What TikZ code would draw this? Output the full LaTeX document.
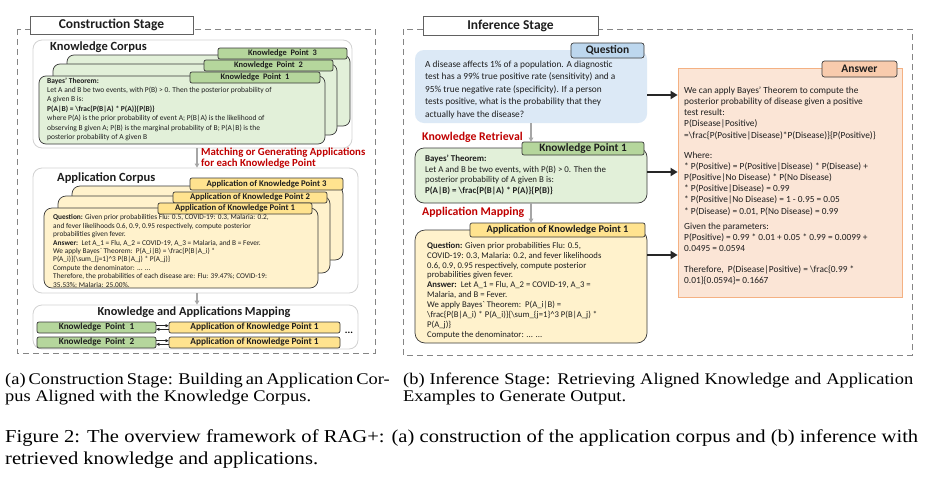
\documentclass[tikz,border=0pt]{standalone}
\usepackage{fontspec}
\setmainfont{Carlito}
\newfontfamily\capfont[FakeStretch=1.13]{Liberation Serif}
\usetikzlibrary{fit,arrows.meta}
\definecolor{gfill}{HTML}{E2F0D9}
\definecolor{glab}{HTML}{B5D69C}
\definecolor{yfill}{HTML}{FFF2CC}
\definecolor{ylab}{HTML}{FFE38F}
\definecolor{qfill}{HTML}{DCE9F6}
\definecolor{qlab}{HTML}{BDD7EE}
\definecolor{afill}{HTML}{FBE5D6}
\definecolor{aline}{HTML}{F4B183}
\definecolor{alab}{HTML}{F8CBAD}
\definecolor{bord}{HTML}{3A3A3A}
\definecolor{framec}{HTML}{858585}
\definecolor{contc}{HTML}{D2D2D2}
\definecolor{arrg}{HTML}{A6A6A6}
\definecolor{redt}{HTML}{C00000}
\definecolor{titc}{HTML}{1E1E1E}
\begin{document}
\begin{tikzpicture}[x=1pt,y=-1pt,
  stageframe/.style={draw=framec,line width=1pt,dash pattern=on 6pt off 4pt},
  stagetitle/.style={draw=bord!80,fill=white,line width=0.8pt,inner sep=0pt,text=titc,font=\fontsize{13.5}{15}\selectfont\bfseries},
  container/.style={draw=contc,fill=white,rounded corners=9pt,line width=0.8pt,inner sep=0pt},
  conttitle/.style={anchor=west,inner sep=0pt,text=titc,font=\fontsize{12.5}{14}\selectfont\bfseries},
  gcard/.style={draw=bord,fill=gfill,rounded corners=7pt,line width=0.7pt,inner sep=0pt},
  ycard/.style={draw=bord,fill=yfill,rounded corners=8pt,line width=0.7pt,inner sep=0pt},
  lab/.style={draw=bord,rounded corners=2pt,line width=0.7pt,inner sep=0pt,text=titc},
  glabel/.style={lab,fill=glab,font=\fontsize{8.4}{9}\selectfont\bfseries},
  ylabel/.style={lab,fill=ylab,font=\fontsize{8.7}{9}\selectfont\bfseries},
  txt/.style={anchor=north west,inner sep=0pt,align=left,text=titc},
  redlab/.style={anchor=west,inner sep=0pt,align=left,text=redt,font=\fontsize{10.8}{10.5}\selectfont\bfseries},
  grayarrow/.style={draw=arrg,line width=1.3pt,-{Triangle[length=4pt,width=4.5pt]}},
  blackarrow/.style={draw=black!85,line width=1.8pt,-{Triangle[length=7pt,width=8pt]}},
  maparrow/.style={draw=black!85,line width=0.6pt,-{Triangle[length=3pt,width=3pt]}},
  captxt/.style={anchor=base west,inner sep=0pt,text=black,font=\capfont\fontsize{16.3}{17}\selectfont},
  figtxt/.style={anchor=base west,inner sep=0pt,text=black,font=\capfont\fontsize{18.2}{22}\selectfont}
]
\useasboundingbox[fill=white] (0,0) rectangle (934,477);

% ================= Construction stage =================
\draw[stageframe] (17,29) rectangle (375,353);
\node[stagetitle,minimum width=163pt,minimum height=18pt] (ctitle) at (111.5,25) {Construction Stage};

% Knowledge corpus
\node[container,fit={(33,40) (352,148)}] (kcont) {};
\node[conttitle] (kctitle) at (50,47.5) {Knowledge Corpus};
\node[gcard,fit={(67,55) (350,126)}] (kcard3) {};
\node[glabel,minimum width=129pt,minimum height=11pt] (kl3) at (282.5,53.5) {Knowledge\ \ Point\ \ 3};
\node[gcard,fit={(53,64) (337,135)}] (kcard2) {};
\node[glabel,minimum width=129pt,minimum height=11pt] (kl2) at (268.5,65.5) {Knowledge\ \ Point\ \ 2};
\node[gcard,fit={(39,76) (325,144)}] (kcard1) {};
\node[glabel,minimum width=130pt,minimum height=11pt] (kl1) at (255,77.5) {Knowledge\ \ Point\ \ 1};
\node[txt,font=\fontsize{7.5}{9.4}\selectfont] (ktext) at (47,77.4) {%
\textbf{Bayes' Theorem:}\\
Let A and B be two events, with P(B) > 0. Then the posterior probability of\\
A given B is:\\
\textbf{P(A|B) = \textbackslash frac\{P(B|A) * P(A)\}\{P(B)\}}\\
where P(A) is the prior probability of event A; P(B|A) is the likelihood of\\
observing B given A; P(B) is the marginal probability of B; P(A|B) is the\\
posterior probability of A given B};

% arrow 1
\coordinate (ax1) at (197,0);
\node[container,fit={(33,168) (358,293)}] (acont) {};
\draw[grayarrow] (kcont.south -| ax1) -- (acont.north -| ax1);
\node[redlab] (match) at (201,158) {Matching or Generating Applications\\for each Knowledge Point};

% Application corpus
\node[conttitle] (actitle) at (57,178) {Application Corpus};
\node[ycard,fit={(72,186) (343,260)}] (acard3) {};
\node[ylabel,minimum width=153pt,minimum height=12pt] (al3) at (266.5,184) {Application of Knowledge Point 3};
\node[ycard,fit={(58,196) (330,273)}] (acard2) {};
\node[ylabel,minimum width=154pt,minimum height=11pt] (al2) at (250,197.5) {Application of Knowledge Point 2};
\node[ycard,fit={(44,208) (318,288)}] (acard1) {};
\node[ylabel,minimum width=154pt,minimum height=11pt] (al1) at (235,208.5) {Application of Knowledge Point 1};
\node[txt,font=\fontsize{7.35}{8.4}\selectfont] (atext) at (53,214.6) {%
\textbf{Question:} Given prior probabilities Flu: 0.5, COVID-19: 0.3, Malaria: 0.2,\\
and fever likelihoods 0.6, 0.9, 0.95 respectively, compute posterior\\
probabilities given fever.\\
\textbf{Answer:}\ \ Let A\_1 = Flu, A\_2 = COVID-19, A\_3 = Malaria, and B = Fever.\\
We apply Bayes\textasciigrave\ Theorem:\ \ P(A\_i|B) = \textbackslash frac\{P(B|A\_i) *\\
P(A\_i)\}\{\textbackslash sum\_\{j=1\}\textasciicircum 3 P(B|A\_j) * P(A\_j)\}\\
Compute the denominator: ... ...\\
Therefore, the probabilities of each disease are: Flu: 39.47\%; COVID-19:\\
35.53\%; Malaria: 25.00\%.};

% Mapping
\node[container,fit={(33,305) (358,349)}] (mcont) {};
\draw[grayarrow] (acont.south -| ax1) -- (mcont.north -| ax1);
\node[inner sep=0pt,text=titc,font=\fontsize{12.3}{13}\selectfont\bfseries] (mtitle) at (194,312.5) {Knowledge and Applications Mapping};
\node[glabel,font=\fontsize{9.2}{10}\selectfont\bfseries,minimum width=119pt,minimum height=11pt] (mk1) at (96.5,327.5) {Knowledge\ \ Point\ \ 1};
\node[ylabel,font=\fontsize{9.3}{10}\selectfont\bfseries,minimum width=171pt,minimum height=11pt] (ma1) at (254.5,327.5) {Application of Knowledge Point 1};
\node[glabel,font=\fontsize{9.2}{10}\selectfont\bfseries,minimum width=119pt,minimum height=11pt] (mk2) at (96.5,342.5) {Knowledge\ \ Point\ \ 2};
\node[ylabel,font=\fontsize{9.3}{10}\selectfont\bfseries,minimum width=171pt,minimum height=11pt] (ma2) at (254.5,342.5) {Application of Knowledge Point 1};
\draw[maparrow] ([yshift=1.8pt]mk1.east) -- ([yshift=1.8pt]ma1.west);
\draw[maparrow] ([yshift=-1.8pt]ma1.west) -- ([yshift=-1.8pt]mk1.east);
\draw[maparrow] ([yshift=1.8pt]mk2.east) -- ([yshift=1.8pt]ma2.west);
\draw[maparrow] ([yshift=-1.8pt]ma2.west) -- ([yshift=-1.8pt]mk2.east);
\node[inner sep=0pt,font=\fontsize{10}{10}\selectfont\bfseries] (mdots) at (349,333) {...};

% ================= Inference stage =================
\draw[stageframe] (403,29) rectangle (912,355);
\node[stagetitle,minimum width=175pt,minimum height=19pt] (ititle) at (510.5,25.5) {Inference Stage};

% Question
\node[fill=qfill,rounded corners=9pt,inner sep=0pt,fit={(415,50) (647,123)}] (qbox) {};
\node[lab,fill=qlab,rounded corners=2.5pt,font=\fontsize{11.5}{12}\selectfont\bfseries,minimum width=73pt,minimum height=15pt] (qlabel) at (607.5,50.5) {Question};
\node[txt,font=\fontsize{9.35}{12.5}\selectfont] (qtext) at (425,60.5) {%
A disease affects 1\% of a population. A diagnostic\\
test has a 99\% true positive rate (sensitivity) and a\\
95\% true negative rate (specificity). If a person\\
tests positive, what is the probability that they\\
actually have the disease?};

% Knowledge point
\node[gcard,rounded corners=9pt,fit={(415,148) (647,203)}] (kpbox) {};
\node[glabel,font=\fontsize{11.3}{12}\selectfont\bfseries,minimum width=122pt,minimum height=13pt] (kplabel) at (583,148.5) {Knowledge Point 1};
\coordinate (ax2) at (531,0);
\draw[grayarrow] (qbox.south -| ax2) -- (kplabel.north -| ax2);
\node[redlab,font=\fontsize{11.8}{12}\selectfont\bfseries] (kr) at (422,137) {Knowledge Retrieval};
\node[txt,font=\fontsize{8.9}{10.7}\selectfont] (kptext) at (425,154.8) {%
\textbf{Bayes' Theorem:}\\
Let A and B be two events, with P(B) > 0. Then the\\
posterior probability of A given B is:\\
\textbf{P(A|B) = \textbackslash frac\{P(B|A) * P(A)\}\{P(B)\}}};

% Application
\node[ycard,rounded corners=10pt,fit={(415,230) (647,343)}] (apbox) {};
\node[ylabel,font=\fontsize{10.3}{11}\selectfont\bfseries,minimum width=175pt,minimum height=14pt] (aplabel) at (557.5,230) {Application of Knowledge Point 1};
\draw[grayarrow] (kpbox.south -| ax2) -- (aplabel.north -| ax2);
\node[redlab,font=\fontsize{11.8}{12}\selectfont\bfseries] (am) at (422,212) {Application Mapping};
\node[txt,font=\fontsize{8.7}{9.9}\selectfont] (aptext) at (427,241.9) {%
\textbf{Question:} Given prior probabilities Flu: 0.5,\\
COVID-19: 0.3, Malaria: 0.2, and fever likelihoods\\
0.6, 0.9, 0.95 respectively, compute posterior\\
probabilities given fever.\\
\textbf{Answer:}\ \ Let A\_1 = Flu, A\_2 = COVID-19, A\_3 =\\
Malaria, and B = Fever.\\
We apply Bayes\textasciigrave\ Theorem:\ \ P(A\_i|B) =\\
\textbackslash frac\{P(B|A\_i) * P(A\_i)\}\{\textbackslash sum\_\{j=1\}\textasciicircum 3 P(B|A\_j) *\\
P(A\_j)\}\\
Compute the denominator: ... ...};

% Answer
\node[draw=aline,fill=afill,line width=0.8pt,inner sep=0pt,fit={(678,68) (902,297)}] (ansbox) {};
\node[lab,fill=alab,rounded corners=2.5pt,font=\fontsize{11.5}{12}\selectfont\bfseries,minimum width=75pt,minimum height=16pt] (anslabel) at (859.5,69) {Answer};
\node[txt,font=\fontsize{9.35}{11.2}\selectfont] (anstext) at (684,86.5) {%
We can apply Bayes' Theorem to compute the\\
posterior probability of disease given a positive\\
test result:\\
P(Disease|Positive)\\
=\textbackslash frac\{P(Positive|Disease)*P(Disease)\}\{P(Positive)\}\\[8.8pt]
Where:\\
* P(Positive) = P(Positive|Disease) * P(Disease) +\\
P(Positive|No Disease) * P(No Disease)\\
* P(Positive|Disease) = 0.99\\
* P(Positive|No Disease) = 1 - 0.95 = 0.05\\
* P(Disease) = 0.01, P(No Disease) = 0.99\\[3.8pt]
Given the parameters:\\
P(Positive) = 0.99 * 0.01 + 0.05 * 0.99 = 0.0099 +\\
0.0495 = 0.0594\\[10pt]
Therefore,\ \ P(Disease|Positive) = \textbackslash frac\{0.99 *\\
0.01\}\{0.0594\}= 0.1667};

\coordinate (y1) at (0,95);
\coordinate (y2) at (0,172);
\coordinate (y3) at (0,255);
\draw[blackarrow] (qbox.east |- y1) -- (ansbox.west |- y1);
\draw[blackarrow] (kpbox.east |- y2) -- (ansbox.west |- y2);
\draw[blackarrow] (apbox.east |- y3) -- (ansbox.west |- y3);

% ================= Captions =================
\node[captxt] (capa1) at (5,384) {\makebox[370pt][s]{(a) Construction Stage: Building an Application Cor-}};
\node[captxt] (capa2) at (5,401.3) {pus Aligned with the Knowledge Corpus.};
\node[captxt] (capb1) at (403,384) {\makebox[510pt][s]{(b) Inference Stage: Retrieving Aligned Knowledge and Application}};
\node[captxt] (capb2) at (403,401.3) {Examples to Generate Output.};
\node[figtxt] (fig1) at (5,442) {\makebox[913pt][s]{Figure 2: The overview framework of RAG+: (a) construction of the application corpus and (b) inference with}};
\node[figtxt] (fig2) at (5,464) {retrieved knowledge and applications.};
\end{tikzpicture}
\end{document}
